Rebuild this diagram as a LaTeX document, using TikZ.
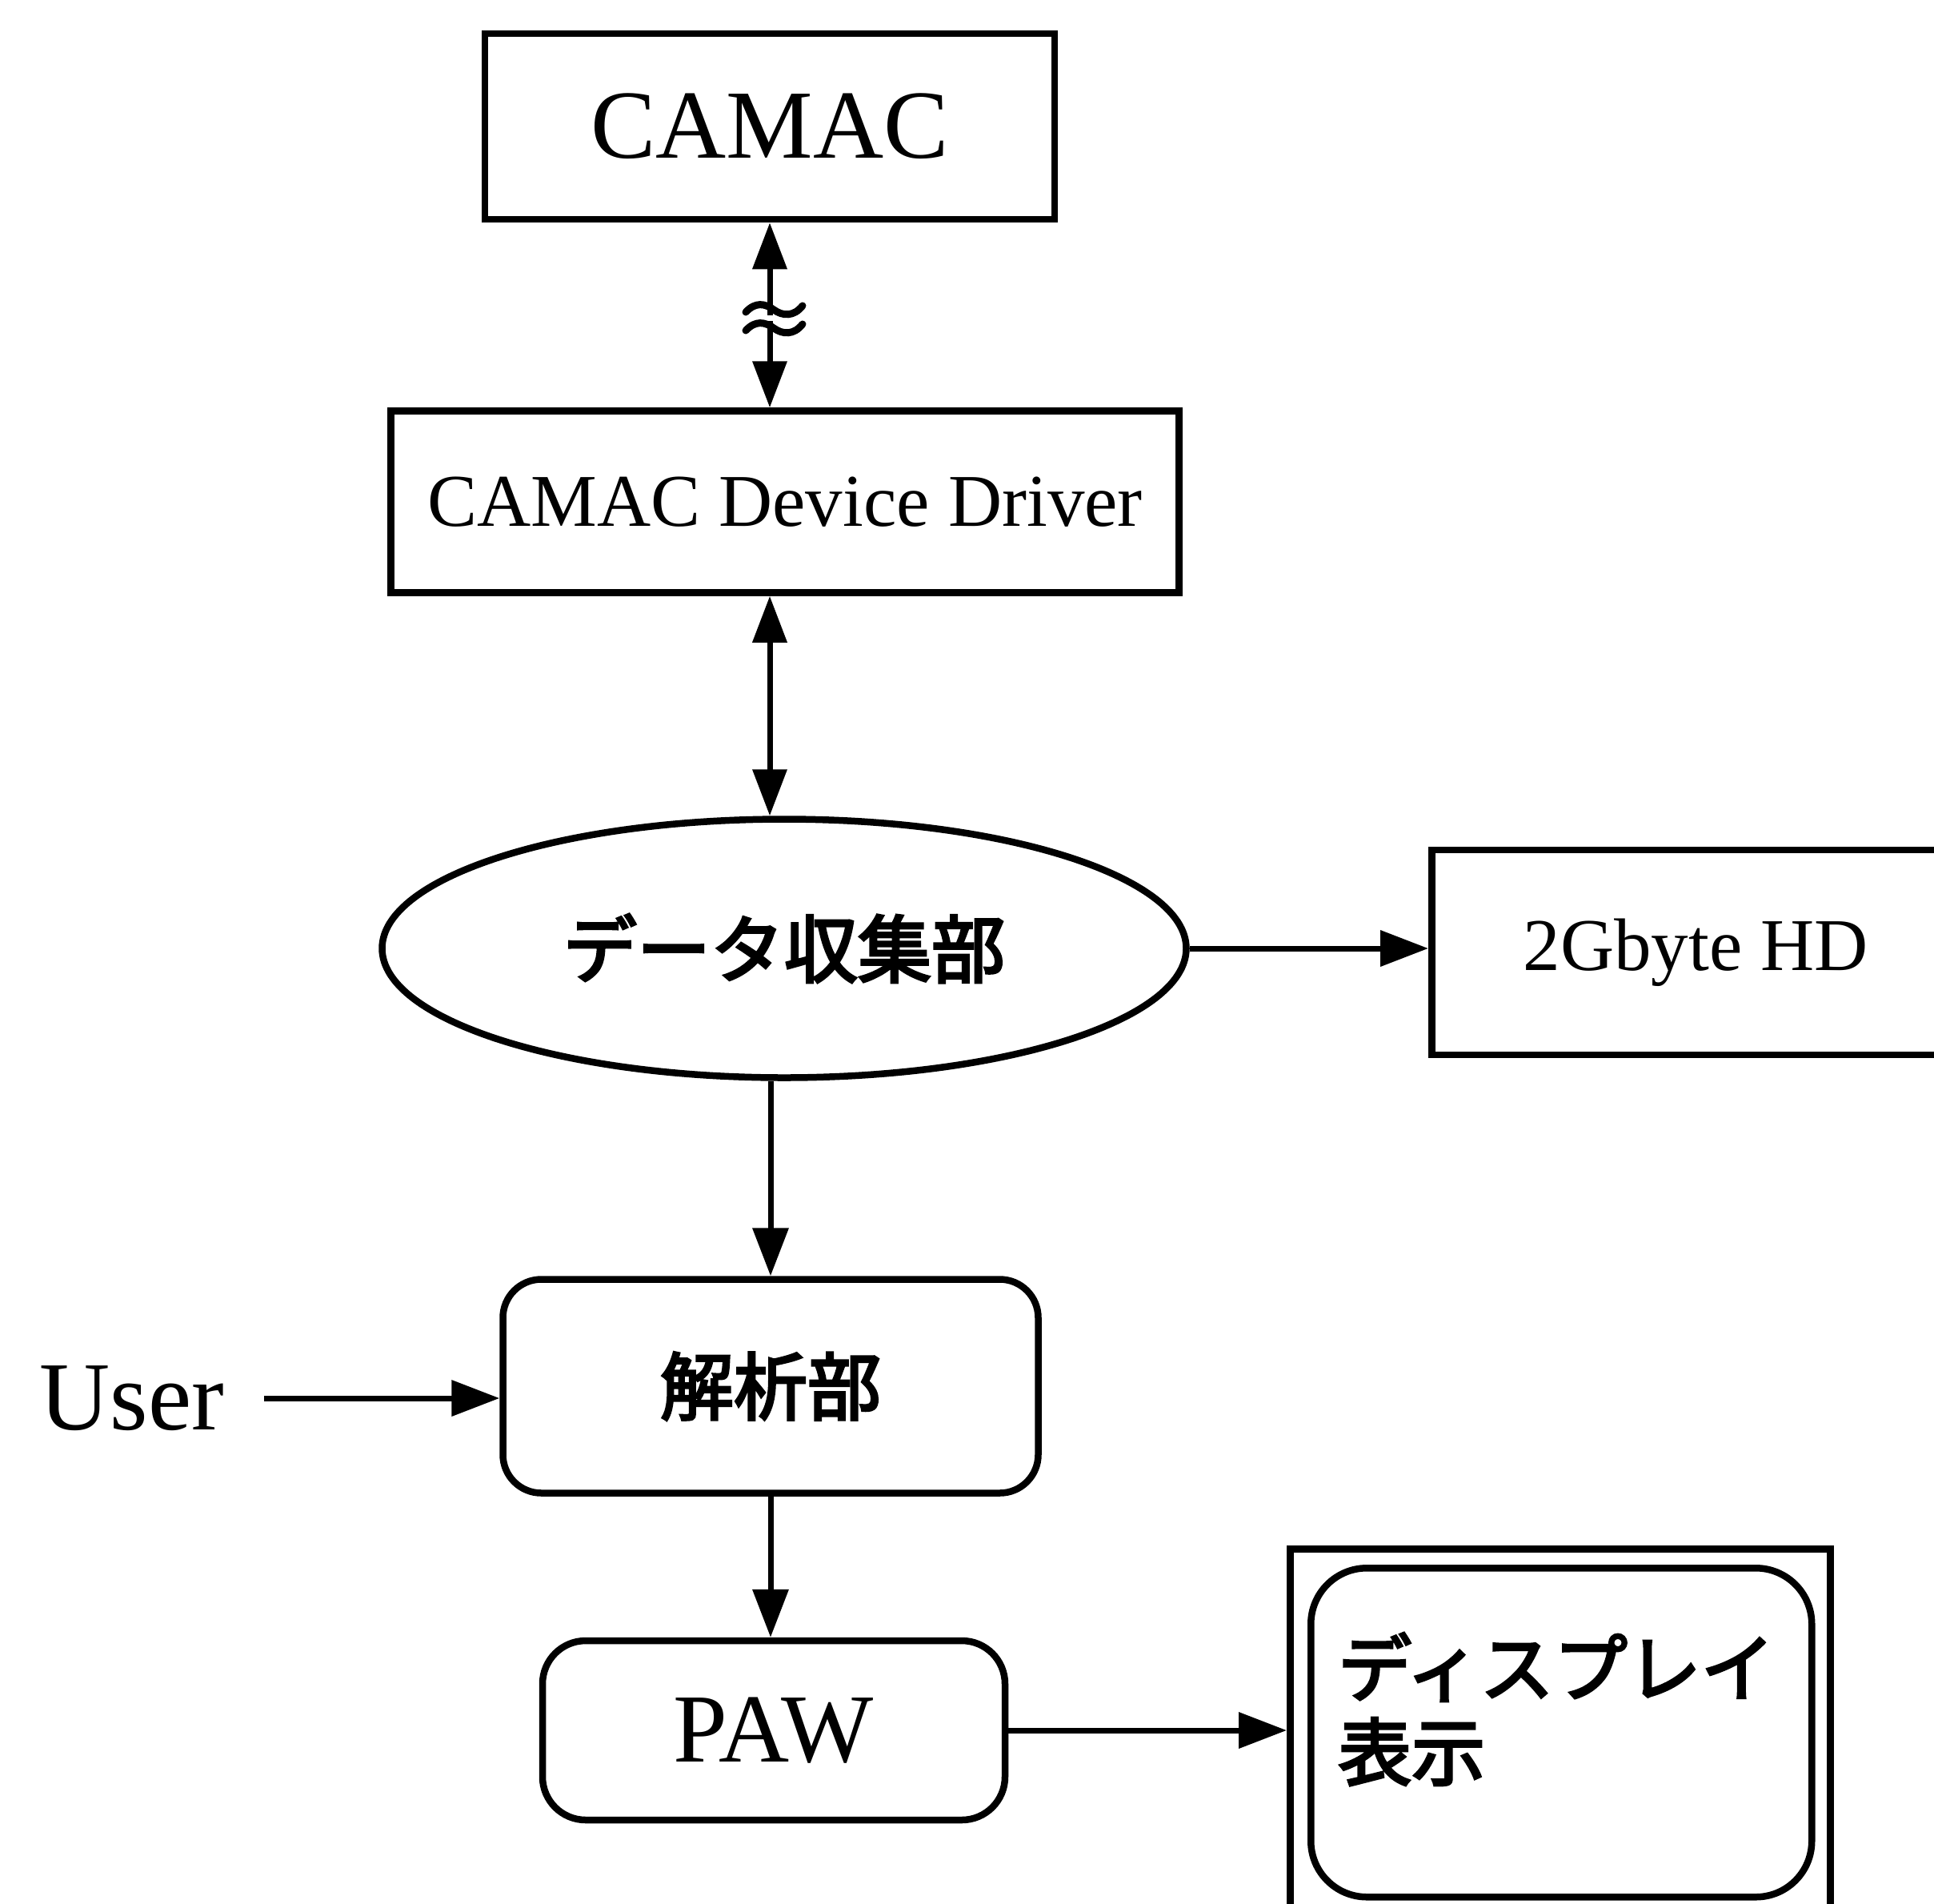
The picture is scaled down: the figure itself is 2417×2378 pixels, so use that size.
\documentclass[tikz,border=0pt]{standalone}
\usepackage{fontspec}
\setmainfont{Liberation Serif}
\newfontfamily\jp[FakeBold=3.5]{Noto Sans CJK JP}
\usetikzlibrary{arrows.meta,shapes.geometric}
\begin{document}
\begin{tikzpicture}[x=1pt,y=-1pt,
  box/.style={draw, line width=8.5pt, inner sep=0pt},
  rbox/.style={box, rounded corners=48pt},
  arr/.style={line width=7pt, -{Triangle[length=60pt,width=44pt]}},
  darr/.style={line width=7pt, {Triangle[length=58pt,width=42pt]}-{Triangle[length=58pt,width=42pt]}},
  big/.style={font=\fontsize{122}{140}\selectfont},
  mid/.style={font=\fontsize{93}{110}\selectfont},
  jpf/.style={font=\jp\fontsize{92}{105}\selectfont}]
\useasboundingbox (0,0) rectangle (2417,2378);
\node[box, big, minimum width=712pt, minimum height=232pt] (camac) at (962,158) {CAMAC};
\node[box, mid, minimum width=985pt, minimum height=227pt] (driver) at (981,627) {CAMAC Device Driver};
\node[box, ellipse, jpf, minimum width=1005pt, minimum height=323pt] (collect) at (980,1185) {データ収集部};
\node[box, mid, minimum width=660pt, minimum height=256pt, anchor=west] (hd) at (1785,1190) {2Gbyte HD};
\node[rbox, jpf, minimum width=669pt, minimum height=267pt] (ana) at (963,1732) {解析部};
\node[big, inner sep=0pt] (user) at (165,1747) {User};
\node[rbox, big, rounded corners=54pt, minimum width=578pt, minimum height=224pt] (paw) at (967,2162) {PAW};
\node[box, minimum width=675pt, minimum height=500pt, anchor=north west] (dispout) at (1608,1931) {};
\node[box, rounded corners=70pt, minimum width=626pt, minimum height=411pt, anchor=north west] (dispin) at (1634,1955) {};
\node[jpf, align=left, anchor=north west, inner sep=0pt] (disptext) at (1672,2040) {ディスプレイ\\表示};
% connectors
\draw[darr] (camac.south) -- (camac.south |- driver.north);
\fill[white] (940,394) rectangle (995,401);
\draw[line width=9pt, line cap=round] (932,390) .. controls (944,377) and (956,379) .. (967,387) .. controls (978,395) and (992,396) .. (1003,382);
\draw[line width=9pt, line cap=round] (932,413) .. controls (944,400) and (956,402) .. (967,410) .. controls (978,418) and (992,419) .. (1003,405);
\draw[darr] (driver.south -| camac.south) -- (collect.north -| camac.south);
\draw[arr] (collect.east) -- (collect.east -| hd.west);
\draw[arr] (ana.north |- collect.south) -- (ana.north);
\draw[arr] ([xshift=50pt]user.east) -- (user.east -| ana.west);
\draw[arr] (ana.south) -- (ana.south |- paw.north);
\draw[arr] (paw.east) -- (paw.east -| dispout.west);
\end{tikzpicture}
\end{document}
